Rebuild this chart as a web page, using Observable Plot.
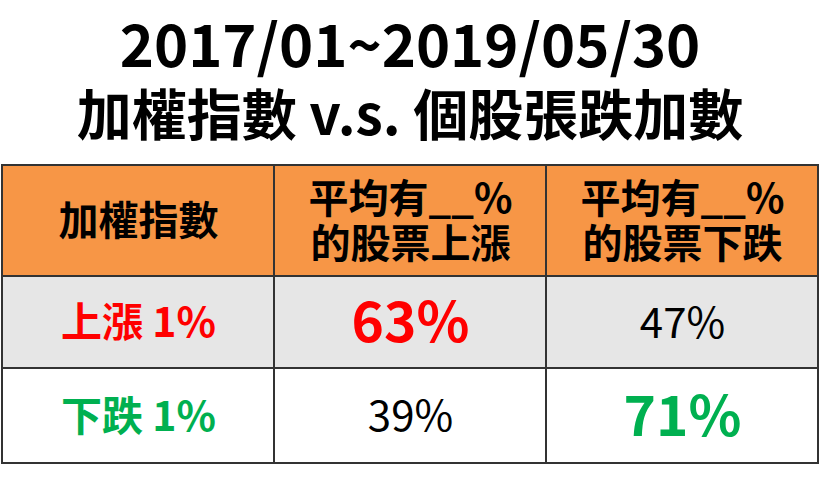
<!DOCTYPE html>
<html>
<head>
<meta charset="utf-8">
<script src="https://cdn.jsdelivr.net/npm/d3@7"></script>
<script src="https://cdn.jsdelivr.net/npm/@observablehq/plot@0.6"></script>
<style>
  html, body { margin: 0; padding: 0; background: #fff; }
  svg { display: block; }
</style>
</head>
<body>
<div id="chart"></div>
<script>
// ---- data ----
const titleLines = ["2017/01~2019/05/30", "加權指數 v.s. 個股張跌加數"];
const columns = ["加權指數", "平均有__%\n的股票上漲", "平均有__%\n的股票下跌"];
const rowLabels = ["上漲 1%", "下跌 1%"];
const pctUp = [63, 39];     // 平均有__%的股票上漲
const pctDown = [47, 71];   // 平均有__%的股票下跌
const highlight = [[true, false], [false, true]]; // [row][up, down]

// ---- style ----
const W = 820, H = 482;
const rowHeights = [111, 92, 95]; // header, row1, row2 (px)
const rowFill = ["#F79646", "#E6E6E6", "#FFFFFF"];
const labelColor = ["#FF0000", "#00B050"];
const font = "'Noto Sans CJK TC', 'Noto Sans', sans-serif";

const edges = [0];
rowHeights.forEach(h => edges.push(edges[edges.length - 1] + h));
const total = edges[edges.length - 1];

const cells = [];
const texts = [];
columns.forEach((c, j) => {
  cells.push({col: c, y1: edges[0], y2: edges[1], fill: rowFill[0]});
  texts.push({col: c, y: (edges[0] + edges[1]) / 2, text: c, fill: "#000", size: 40, weight: "bold"});
});
rowLabels.forEach((r, i) => {
  const y1 = edges[i + 1], y2 = edges[i + 2], ym = (y1 + y2) / 2;
  columns.forEach(c => cells.push({col: c, y1, y2, fill: rowFill[i + 1]}));
  texts.push({col: columns[0], y: ym, text: r, fill: labelColor[i], size: 41, weight: "bold"});
  [pctUp[i], pctDown[i]].forEach((v, k) => {
    const hl = highlight[i][k];
    texts.push({
      col: columns[k + 1], y: ym, text: v + "%",
      fill: hl ? labelColor[i] : "#000",
      size: hl ? 55 : 42, weight: hl ? "bold" : "normal"
    });
  });
});

const groups = d3.groups(texts, d => d.size + "|" + d.weight);

const chart = Plot.plot({
  width: W,
  height: H,
  marginTop: 165,
  marginBottom: H - 463,
  marginLeft: 1,
  marginRight: 2,
  style: {fontFamily: font, background: "#fff"},
  x: {type: "band", domain: columns, padding: 0, axis: null},
  y: {domain: [0, total], reverse: true, axis: null},
  marks: [
    Plot.barY(cells, {
      x: "col", y1: "y1", y2: "y2", fill: "fill",
      stroke: "#333", strokeWidth: 2, inset: 0
    }),
    ...groups.map(([key, arr]) =>
      Plot.text(arr, {
        x: "col", y: "y", text: "text", fill: "fill",
        fontSize: arr[0].size, fontWeight: arr[0].weight, lineHeight: 1.13,
        textAnchor: "middle", lineAnchor: "middle"
      })
    ),
    Plot.text([titleLines[0]], {
      frameAnchor: "top", dy: -165 + 48, text: d => d,
      fontSize: 58, fontWeight: "bold", fill: "#000", lineAnchor: "middle"
    }),
    Plot.text([titleLines[1]], {
      frameAnchor: "top", dy: -165 + 117, text: d => d,
      fontSize: 55, fontWeight: "bold", fill: "#000", lineAnchor: "middle"
    })
  ]
});
document.getElementById("chart").appendChild(chart);
</script>
</body>
</html>
